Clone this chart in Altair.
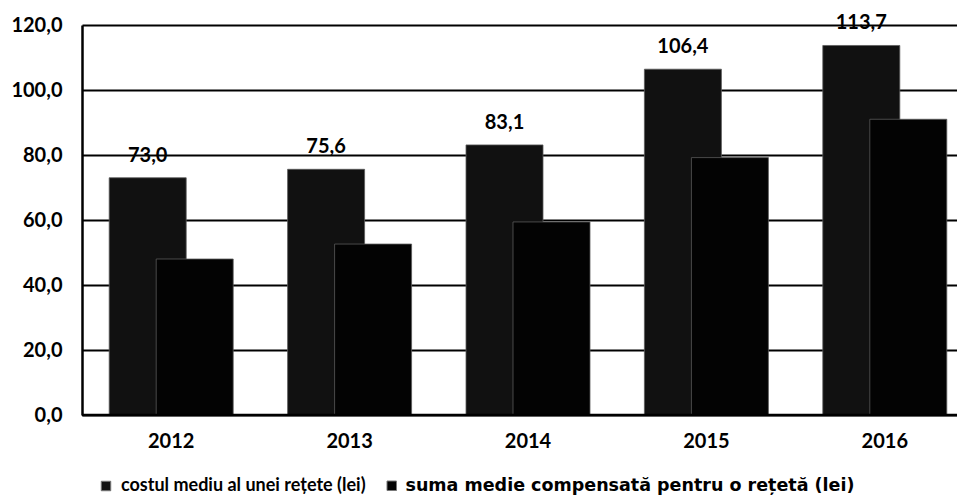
import altair as alt
import pandas as pd

years = ["2012", "2013", "2014", "2015", "2016"]
series_names = ["costul mediu al unei rețete (lei)", "suma medie compensată pentru o rețetă (lei)"]
cost_mediu = [73.0, 75.6, 83.1, 106.4, 113.7]
suma_compensata = [48.0, 52.6, 59.4, 79.2, 91.0]
y_ticks = [0, 20, 40, 60, 80, 100, 120]

df1 = pd.DataFrame({"year": years, "series": series_names[0], "value": cost_mediu})
df2 = pd.DataFrame({"year": years, "series2": series_names[1], "value": suma_compensata})

FONT = "Lato"

x_enc = alt.X("year:N", sort=years, title=None,
              scale=alt.Scale(range=[0, 892], paddingInner=0, paddingOuter=0),
              axis=alt.Axis(labelAngle=0, ticks=False, domain=False, labelPadding=16,
                            labelFont=FONT, labelFontSize=20, labelFontWeight="bold",
                            labelColor="#000"))
y_enc = alt.Y("value:Q", title=None,
              scale=alt.Scale(domain=[0, 120], nice=False),
              axis=alt.Axis(values=y_ticks, ticks=False, labelPadding=20,
                            labelExpr="replace(format(datum.value, '.1f'), '.', ',')",
                            labelFont=FONT, labelFontSize=20, labelFontWeight="bold",
                            labelColor="#000", grid=True, gridColor="#000", gridWidth=2,
                            domain=True, domainColor="#000", domainWidth=2.5))

color1 = alt.Color("series:N",
                   scale=alt.Scale(domain=[series_names[0]], range=["#111111"]),
                   legend=alt.Legend(title=None, orient="none", legendX=15, legendY=452,
                                     symbolType="square", symbolSize=90,
                                     symbolStrokeColor="#777", symbolStrokeWidth=1,
                                     labelFont=FONT, labelFontSize=18, labelColor="#000",
                                     labelFontWeight="bold", labelOffset=6, labelLimit=600))
color2 = alt.Color("series2:N",
                   scale=alt.Scale(domain=[series_names[1]], range=["#030303"]),
                   legend=alt.Legend(title=None, orient="none", legendX=301, legendY=452,
                                     symbolType="square", symbolSize=90,
                                     symbolStrokeColor="#777", symbolStrokeWidth=1,
                                     labelFont="DejaVu Sans", labelFontSize=17.5, labelColor="#000",
                                     labelFontWeight="bold", labelOffset=5, labelLimit=600))

bars1 = alt.Chart(df1).mark_bar(
    width=77, xOffset=-23.5, stroke="#5a5a5a", strokeWidth=0.8
).encode(x=x_enc, y=y_enc, color=color1)

bars2 = alt.Chart(df2).mark_bar(
    width=77, xOffset=23.5, stroke="#5a5a5a", strokeWidth=0.8
).encode(x=x_enc, y=y_enc, color=color2)

labels = alt.Chart(df1).transform_calculate(
    label="replace(format(datum.value, '.1f'), '.', ',')"
).mark_text(
    xOffset=-23.5, dy=-12, baseline="bottom", font=FONT, fontSize=20, fontWeight="bold",
    color="#000"
).encode(x=x_enc, y=y_enc, text=alt.Text("label:N"))

bottom_line = alt.Chart(pd.DataFrame({"v": [0]})).mark_rule(color="#000", strokeWidth=2.5).encode(
    y=alt.Y("v:Q", scale=alt.Scale(domain=[0, 120], nice=False)),
    x=alt.value(0), x2=alt.value(875))

chart = alt.layer(bars1, bars2, labels, bottom_line).resolve_scale(
    color="independent"
).properties(
    width=875, height=390,
    autosize=alt.AutoSizeParams(type="none"),
    padding={"left": 74, "top": 17, "right": 0, "bottom": 80},
).configure_view(stroke=None).configure(background="white")

chart.save("out.html", embed_options={"renderer": "svg", "actions": False})
